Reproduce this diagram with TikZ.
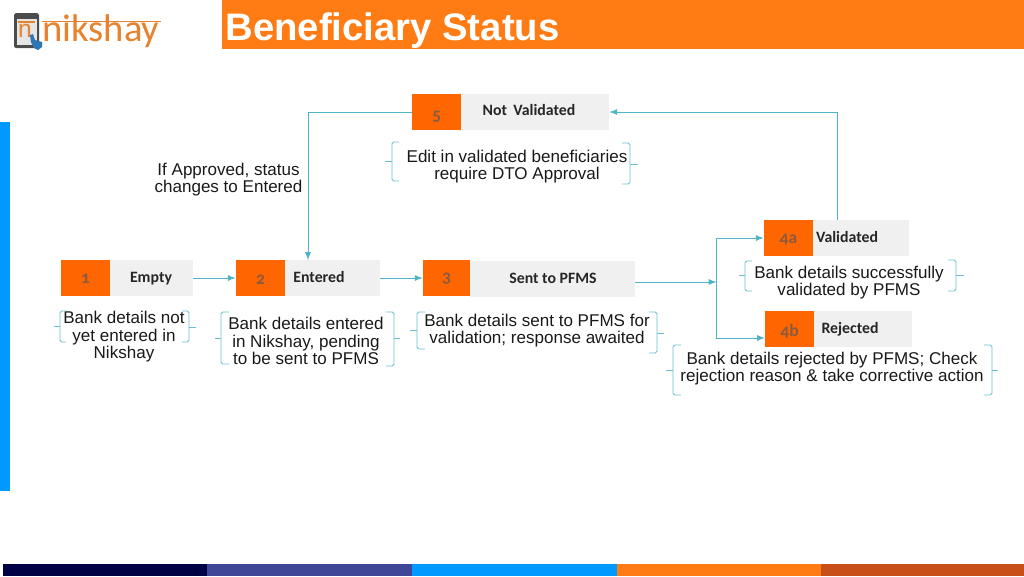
\documentclass[tikz,border=0pt]{standalone}
\usepackage{fontspec}
\setmainfont{Liberation Sans}
\newfontfamily\labelfont[Numbers=OldStyle]{Carlito}
\usetikzlibrary{positioning}
\definecolor{headorange}{HTML}{FF7C14}
\definecolor{numorange}{HTML}{FF6600}
\definecolor{numtext}{HTML}{8C5A3C}
\definecolor{boxgray}{HTML}{F0F0F0}
\definecolor{linkblue}{HTML}{4FB4C8}
\definecolor{barnavy}{HTML}{000044}
\definecolor{barindigo}{HTML}{3F4697}
\definecolor{barblue}{HTML}{0099FF}
\definecolor{barrust}{HTML}{C84F17}
\definecolor{logoorange}{HTML}{E8822E}
\definecolor{logoblue}{HTML}{2E75B6}
\tikzset{
  numbox/.style={fill=numorange,inner sep=0pt,minimum width=0.98cm,minimum height=0.72cm},
  numlab/.style={inner sep=0pt,font=\labelfont\fontsize{10}{10}\selectfont\bfseries,text=numtext},
  graybox/.style={fill=boxgray,inner sep=0pt,minimum height=0.72cm},
  statelabel/.style={inner sep=0pt,font=\labelfont\fontsize{9}{10}\selectfont\bfseries,text=black!85},
  desc/.style={inner sep=0pt,align=center,font=\fontsize{9.7}{9.95}\selectfont,text=black!90},
  link/.style={->,>=latex,linkblue,line width=0.55pt},
  brk/.style={linkblue!85,line width=0.5pt,rounded corners=1pt}
}
\begin{document}
\begin{tikzpicture}[x=0.02cm,y=-0.02cm]
\useasboundingbox (0,0) rectangle (1024,576);
%ramme
\fill[headorange] (222,0) rectangle (1024,49);
\fill[barblue] (0,122) rectangle (10,491);
\fill[barnavy] (3,564) rectangle (207,576);
\fill[barindigo] (207,564) rectangle (412,576);
\fill[barblue] (412,564) rectangle (617,576);
\fill[headorange] (617,564) rectangle (821,576);
\fill[barrust] (821,564) rectangle (1024,576);
\node [anchor=west,inner sep=0pt,text=white,font=\fontsize{21.8}{24}\selectfont\bfseries] (title) at (225,31) {Beneficiary Status};
%logo
\fill[black!70,rounded corners=1pt] (14,13) rectangle (39,48);
\fill[black!10] (17,19) rectangle (37,45);
\draw[logoorange,line width=0.7pt] (18,22) -- (35,22);
\node [inner sep=0pt,text=logoorange,font=\fontsize{14}{14}\selectfont] (tabletn) at (25,31) {n};
\fill[logoblue] (30,35) -- (33,34) -- (35,40) -- (42,42) -- (42,47) -- (38,50) -- (34,48) -- (31,42) -- cycle;
\draw[logoorange,line width=0.8pt] (42,21.5) -- (161,21.5);
\node [anchor=west,inner sep=0pt,text=logoorange,font=\labelfont\fontsize{22}{22}\selectfont] (logotext) at (42,31) {nikshay};
%tilstande
\node [numbox] (num1) at (85.5,278) {};
\node [numlab] (numlab1) at (85.5,279) {1};
\node [graybox,minimum width=1.66cm] (emptybox) at (151.5,278) {};
\node [statelabel] (emptylab) at (151,279) {Empty};
\node [numbox] (num2) at (260.5,278) {};
\node [numlab] (numlab2) at (260.5,280) {2};
\node [graybox,minimum width=1.9cm] (enteredbox) at (332.5,278) {};
\node [statelabel] (enteredlab) at (319,277) {Entered};
\node [numbox,minimum width=0.94cm] (num3) at (446.5,278) {};
\node [numlab] (numlab3) at (446.5,278.5) {3};
\node [graybox,minimum width=3.3cm] (sentbox) at (552.5,278.5) {};
\node [statelabel] (sentlab) at (553,278) {Sent to PFMS};
\node [numbox] (num5) at (436.5,112) {};
\node [numlab] (numlab5) at (436.5,117) {5};
\node [graybox,minimum width=2.96cm] (notbox) at (535,112) {};
\node [statelabel] (notlab) at (529,110) {Not\, Validated};
\node [numbox] (num4a) at (788.5,238) {};
\node [numlab] (numlab4a) at (788.5,240) {4a};
\node [graybox,minimum width=1.92cm] (valbox) at (861,238) {};
\node [statelabel] (vallab) at (847,237) {Validated};
\node [numbox] (num4b) at (789.5,328.5) {};
\node [numlab] (numlab4b) at (789.5,331.5) {4b};
\node [graybox,minimum width=1.96cm] (rejbox) at (863,328.5) {};
\node [statelabel] (rejlab) at (850,329) {Rejected};
%forbindelser
\coordinate (split) at (716.5,282);
\coordinate (sentout) at (635,282);
\coordinate (in4b) at (765,338);
\coordinate (valtop) at (837,220);
\coordinate (enteredtop) at (308,260);
\draw[link] (emptybox.east) -- (num2.west);
\draw[link] (enteredbox.east) -- (num3.west);
\draw[link] (sentout) -- (split);
\draw[link] (split) |- (num4a.west);
\draw[link] (split) |- (in4b);
\draw[link] (valtop) |- (notbox.east);
\draw[link] (num5.west) -| (enteredtop);
%tekster
\node [desc] (approvedtxt) at (228.5,179.5) {If Approved, status\\changes to Entered};
\node [desc] (edittxt) at (517,166.5) {Edit in validated beneficiaries\\require DTO Approval};
\node [desc] (emptytxt) at (124,337) {Bank details not\\yet entered in\\Nikshay};
\node [desc] (enteredtxt) at (306,341) {Bank details entered\\in Nikshay, pending\\to be sent to PFMS};
\node [desc] (senttxt) at (537,330.5) {Bank details sent to PFMS for\\validation; response awaited};
\node [desc] (valtxt) at (849,282.5) {Bank details successfully\\validated by PFMS};
\node [desc] (rejtxt) at (832,368.5) {Bank details rejected by PFMS; Check\\rejection reason \& take corrective action};
%klammer
\draw[brk] (399,142) -- (392,142) -- (392,181) -- (399,181);
\draw[brk] (392,161) -- (385,161);
\draw[brk] (622,143) -- (630,143) -- (630,184) -- (622,184);
\draw[brk] (630,164) -- (638,164);
\draw[brk] (66,311) -- (60,311) -- (60,342) -- (66,342);
\draw[brk] (60,326) -- (54,326);
\draw[brk] (182,311) -- (189,311) -- (189,342) -- (182,342);
\draw[brk] (189,327) -- (196,327);
\draw[brk] (229,312) -- (221,312) -- (221,364) -- (229,364);
\draw[brk] (221,338) -- (215,338);
\draw[brk] (386,312) -- (394,312) -- (394,366) -- (386,366);
\draw[brk] (394,338) -- (400,338);
\draw[brk] (425,312) -- (417,312) -- (417,349) -- (425,349);
\draw[brk] (417,330) -- (410,330);
\draw[brk] (649,312) -- (657,312) -- (657,353) -- (649,353);
\draw[brk] (657,333) -- (664,333);
\draw[brk] (752,261) -- (745,261) -- (745,291) -- (752,291);
\draw[brk] (745,275) -- (739,275);
\draw[brk] (948,260) -- (956,260) -- (956,291) -- (948,291);
\draw[brk] (956,275) -- (964,275);
\draw[brk] (681,345) -- (673,345) -- (673,395) -- (681,395);
\draw[brk] (673,370) -- (666,370);
\draw[brk] (984,345) -- (992,345) -- (992,395) -- (984,395);
\draw[brk] (992,370) -- (998,370);
\end{tikzpicture}
\end{document}
